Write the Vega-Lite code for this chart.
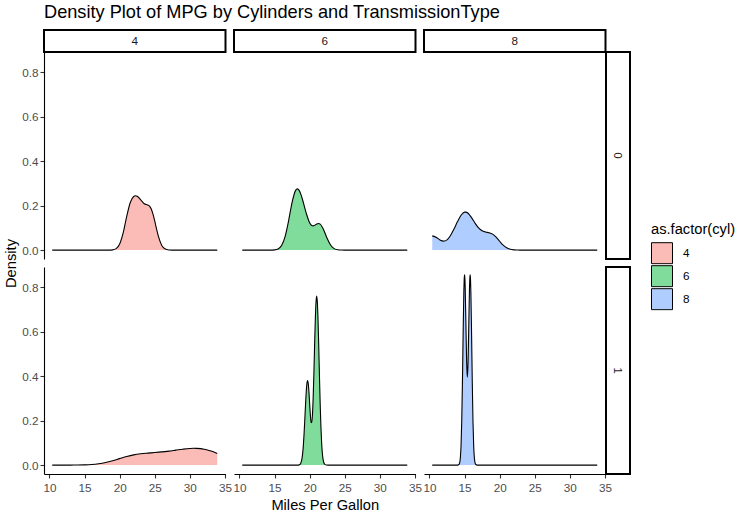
{
  "$schema": "https://vega.github.io/schema/vega-lite/v6.json",
  "background": "white",
  "padding": {"left": 3, "top": 2, "right": 5, "bottom": 3},
  "title": {"text": "Density Plot of MPG by Cylinders and TransmissionType", "anchor": "start", "frame": "group", "fontSize": 18.2, "fontWeight": "normal", "color": "black", "offset": 7},
  "data": {"values": [
    {"am": 0, "cyl": 4, "mpg": 10.4, "density": 0},
    {"am": 0, "cyl": 4, "mpg": 18.5, "density": 0},
    {"am": 0, "cyl": 4, "mpg": 19, "density": 0.001},
    {"am": 0, "cyl": 4, "mpg": 19.5, "density": 0.0065},
    {"am": 0, "cyl": 4, "mpg": 20, "density": 0.0273},
    {"am": 0, "cyl": 4, "mpg": 20.5, "density": 0.0773},
    {"am": 0, "cyl": 4, "mpg": 21, "density": 0.1506},
    {"am": 0, "cyl": 4, "mpg": 21.5, "density": 0.2129},
    {"am": 0, "cyl": 4, "mpg": 22, "density": 0.2409},
    {"am": 0, "cyl": 4, "mpg": 22.25, "density": 0.244},
    {"am": 0, "cyl": 4, "mpg": 22.5, "density": 0.2419},
    {"am": 0, "cyl": 4, "mpg": 23, "density": 0.2258},
    {"am": 0, "cyl": 4, "mpg": 23.5, "density": 0.2081},
    {"am": 0, "cyl": 4, "mpg": 24, "density": 0.2026},
    {"am": 0, "cyl": 4, "mpg": 24.25, "density": 0.1978},
    {"am": 0, "cyl": 4, "mpg": 24.5, "density": 0.1848},
    {"am": 0, "cyl": 4, "mpg": 24.75, "density": 0.1615},
    {"am": 0, "cyl": 4, "mpg": 25, "density": 0.13},
    {"am": 0, "cyl": 4, "mpg": 25.25, "density": 0.0954},
    {"am": 0, "cyl": 4, "mpg": 25.5, "density": 0.0636},
    {"am": 0, "cyl": 4, "mpg": 26, "density": 0.021},
    {"am": 0, "cyl": 4, "mpg": 26.5, "density": 0.0046},
    {"am": 0, "cyl": 4, "mpg": 27, "density": 0.0007},
    {"am": 0, "cyl": 4, "mpg": 27.5, "density": 0},
    {"am": 0, "cyl": 4, "mpg": 33.9, "density": 0},
    {"am": 0, "cyl": 6, "mpg": 10.4, "density": 0},
    {"am": 0, "cyl": 6, "mpg": 14.5, "density": 0},
    {"am": 0, "cyl": 6, "mpg": 15, "density": 0.0009},
    {"am": 0, "cyl": 6, "mpg": 15.5, "density": 0.0051},
    {"am": 0, "cyl": 6, "mpg": 16, "density": 0.0206},
    {"am": 0, "cyl": 6, "mpg": 16.5, "density": 0.0606},
    {"am": 0, "cyl": 6, "mpg": 17, "density": 0.1317},
    {"am": 0, "cyl": 6, "mpg": 17.5, "density": 0.2145},
    {"am": 0, "cyl": 6, "mpg": 18, "density": 0.2682},
    {"am": 0, "cyl": 6, "mpg": 18.25, "density": 0.2749},
    {"am": 0, "cyl": 6, "mpg": 18.5, "density": 0.2682},
    {"am": 0, "cyl": 6, "mpg": 18.75, "density": 0.2504},
    {"am": 0, "cyl": 6, "mpg": 19, "density": 0.2252},
    {"am": 0, "cyl": 6, "mpg": 19.5, "density": 0.1674},
    {"am": 0, "cyl": 6, "mpg": 20, "density": 0.1227},
    {"am": 0, "cyl": 6, "mpg": 20.25, "density": 0.1117},
    {"am": 0, "cyl": 6, "mpg": 20.5, "density": 0.1088},
    {"am": 0, "cyl": 6, "mpg": 20.75, "density": 0.1119},
    {"am": 0, "cyl": 6, "mpg": 21, "density": 0.1169},
    {"am": 0, "cyl": 6, "mpg": 21.25, "density": 0.1196},
    {"am": 0, "cyl": 6, "mpg": 21.5, "density": 0.1166},
    {"am": 0, "cyl": 6, "mpg": 22, "density": 0.0907},
    {"am": 0, "cyl": 6, "mpg": 22.5, "density": 0.0519},
    {"am": 0, "cyl": 6, "mpg": 23, "density": 0.0216},
    {"am": 0, "cyl": 6, "mpg": 23.5, "density": 0.0065},
    {"am": 0, "cyl": 6, "mpg": 24, "density": 0.0014},
    {"am": 0, "cyl": 6, "mpg": 24.5, "density": 0.0002},
    {"am": 0, "cyl": 6, "mpg": 25, "density": 0},
    {"am": 0, "cyl": 6, "mpg": 33.9, "density": 0},
    {"am": 0, "cyl": 8, "mpg": 10.4, "density": 0.0639},
    {"am": 0, "cyl": 8, "mpg": 11, "density": 0.0569},
    {"am": 0, "cyl": 8, "mpg": 11.5, "density": 0.0453},
    {"am": 0, "cyl": 8, "mpg": 12, "density": 0.0402},
    {"am": 0, "cyl": 8, "mpg": 12.5, "density": 0.0461},
    {"am": 0, "cyl": 8, "mpg": 13, "density": 0.0658},
    {"am": 0, "cyl": 8, "mpg": 13.5, "density": 0.0951},
    {"am": 0, "cyl": 8, "mpg": 14, "density": 0.1281},
    {"am": 0, "cyl": 8, "mpg": 14.5, "density": 0.1564},
    {"am": 0, "cyl": 8, "mpg": 15, "density": 0.1705},
    {"am": 0, "cyl": 8, "mpg": 15.2, "density": 0.1708},
    {"am": 0, "cyl": 8, "mpg": 15.5, "density": 0.1656},
    {"am": 0, "cyl": 8, "mpg": 16, "density": 0.1456},
    {"am": 0, "cyl": 8, "mpg": 16.5, "density": 0.1206},
    {"am": 0, "cyl": 8, "mpg": 17, "density": 0.0995},
    {"am": 0, "cyl": 8, "mpg": 17.5, "density": 0.0866},
    {"am": 0, "cyl": 8, "mpg": 18, "density": 0.0811},
    {"am": 0, "cyl": 8, "mpg": 18.5, "density": 0.0782},
    {"am": 0, "cyl": 8, "mpg": 19, "density": 0.0716},
    {"am": 0, "cyl": 8, "mpg": 19.5, "density": 0.058},
    {"am": 0, "cyl": 8, "mpg": 20, "density": 0.0397},
    {"am": 0, "cyl": 8, "mpg": 20.5, "density": 0.0224},
    {"am": 0, "cyl": 8, "mpg": 21, "density": 0.0103},
    {"am": 0, "cyl": 8, "mpg": 21.5, "density": 0.0038},
    {"am": 0, "cyl": 8, "mpg": 22, "density": 0.0011},
    {"am": 0, "cyl": 8, "mpg": 22.5, "density": 0.0003},
    {"am": 0, "cyl": 8, "mpg": 23, "density": 0},
    {"am": 0, "cyl": 8, "mpg": 33.9, "density": 0},
    {"am": 1, "cyl": 4, "mpg": 10.4, "density": 0},
    {"am": 1, "cyl": 4, "mpg": 13, "density": 0.0001},
    {"am": 1, "cyl": 4, "mpg": 14, "density": 0.0003},
    {"am": 1, "cyl": 4, "mpg": 15, "density": 0.001},
    {"am": 1, "cyl": 4, "mpg": 16, "density": 0.0025},
    {"am": 1, "cyl": 4, "mpg": 17, "density": 0.0058},
    {"am": 1, "cyl": 4, "mpg": 18, "density": 0.0114},
    {"am": 1, "cyl": 4, "mpg": 19, "density": 0.0195},
    {"am": 1, "cyl": 4, "mpg": 20, "density": 0.0291},
    {"am": 1, "cyl": 4, "mpg": 21, "density": 0.0385},
    {"am": 1, "cyl": 4, "mpg": 22, "density": 0.046},
    {"am": 1, "cyl": 4, "mpg": 23, "density": 0.0508},
    {"am": 1, "cyl": 4, "mpg": 24, "density": 0.0538},
    {"am": 1, "cyl": 4, "mpg": 25, "density": 0.0563},
    {"am": 1, "cyl": 4, "mpg": 26, "density": 0.0592},
    {"am": 1, "cyl": 4, "mpg": 27, "density": 0.0629},
    {"am": 1, "cyl": 4, "mpg": 28, "density": 0.0672},
    {"am": 1, "cyl": 4, "mpg": 29, "density": 0.0715},
    {"am": 1, "cyl": 4, "mpg": 30, "density": 0.0747},
    {"am": 1, "cyl": 4, "mpg": 30.5, "density": 0.0754},
    {"am": 1, "cyl": 4, "mpg": 31, "density": 0.0752},
    {"am": 1, "cyl": 4, "mpg": 31.5, "density": 0.0739},
    {"am": 1, "cyl": 4, "mpg": 32, "density": 0.0714},
    {"am": 1, "cyl": 4, "mpg": 32.5, "density": 0.0677},
    {"am": 1, "cyl": 4, "mpg": 33, "density": 0.0629},
    {"am": 1, "cyl": 4, "mpg": 33.5, "density": 0.0573},
    {"am": 1, "cyl": 4, "mpg": 33.9, "density": 0.0522},
    {"am": 1, "cyl": 6, "mpg": 10.4, "density": 0},
    {"am": 1, "cyl": 6, "mpg": 18.3, "density": 0},
    {"am": 1, "cyl": 6, "mpg": 18.5, "density": 0.001},
    {"am": 1, "cyl": 6, "mpg": 18.6, "density": 0.0028},
    {"am": 1, "cyl": 6, "mpg": 18.7, "density": 0.0065},
    {"am": 1, "cyl": 6, "mpg": 18.8, "density": 0.0141},
    {"am": 1, "cyl": 6, "mpg": 18.9, "density": 0.028},
    {"am": 1, "cyl": 6, "mpg": 19, "density": 0.0517},
    {"am": 1, "cyl": 6, "mpg": 19.1, "density": 0.0876},
    {"am": 1, "cyl": 6, "mpg": 19.2, "density": 0.1371},
    {"am": 1, "cyl": 6, "mpg": 19.3, "density": 0.1978},
    {"am": 1, "cyl": 6, "mpg": 19.4, "density": 0.263},
    {"am": 1, "cyl": 6, "mpg": 19.5, "density": 0.3225},
    {"am": 1, "cyl": 6, "mpg": 19.6, "density": 0.3644},
    {"am": 1, "cyl": 6, "mpg": 19.7, "density": 0.3802},
    {"am": 1, "cyl": 6, "mpg": 19.8, "density": 0.3664},
    {"am": 1, "cyl": 6, "mpg": 19.9, "density": 0.328},
    {"am": 1, "cyl": 6, "mpg": 20, "density": 0.276},
    {"am": 1, "cyl": 6, "mpg": 20.1, "density": 0.2259},
    {"am": 1, "cyl": 6, "mpg": 20.2, "density": 0.193},
    {"am": 1, "cyl": 6, "mpg": 20.3, "density": 0.1909},
    {"am": 1, "cyl": 6, "mpg": 20.4, "density": 0.2269},
    {"am": 1, "cyl": 6, "mpg": 20.5, "density": 0.3021},
    {"am": 1, "cyl": 6, "mpg": 20.6, "density": 0.4096},
    {"am": 1, "cyl": 6, "mpg": 20.7, "density": 0.5325},
    {"am": 1, "cyl": 6, "mpg": 20.8, "density": 0.6477},
    {"am": 1, "cyl": 6, "mpg": 20.9, "density": 0.7297},
    {"am": 1, "cyl": 6, "mpg": 21, "density": 0.7593},
    {"am": 1, "cyl": 6, "mpg": 21.1, "density": 0.7288},
    {"am": 1, "cyl": 6, "mpg": 21.2, "density": 0.645},
    {"am": 1, "cyl": 6, "mpg": 21.3, "density": 0.5261},
    {"am": 1, "cyl": 6, "mpg": 21.4, "density": 0.3956},
    {"am": 1, "cyl": 6, "mpg": 21.5, "density": 0.2742},
    {"am": 1, "cyl": 6, "mpg": 21.6, "density": 0.1752},
    {"am": 1, "cyl": 6, "mpg": 21.7, "density": 0.1033},
    {"am": 1, "cyl": 6, "mpg": 21.8, "density": 0.0559},
    {"am": 1, "cyl": 6, "mpg": 21.9, "density": 0.0282},
    {"am": 1, "cyl": 6, "mpg": 22, "density": 0.0129},
    {"am": 1, "cyl": 6, "mpg": 22.2, "density": 0.0021},
    {"am": 1, "cyl": 6, "mpg": 22.4, "density": 0.0003},
    {"am": 1, "cyl": 6, "mpg": 22.6, "density": 0},
    {"am": 1, "cyl": 6, "mpg": 33.9, "density": 0},
    {"am": 1, "cyl": 8, "mpg": 10.4, "density": 0},
    {"am": 1, "cyl": 8, "mpg": 14, "density": 0.0001},
    {"am": 1, "cyl": 8, "mpg": 14.2, "density": 0.0024},
    {"am": 1, "cyl": 8, "mpg": 14.3, "density": 0.0096},
    {"am": 1, "cyl": 8, "mpg": 14.4, "density": 0.0319},
    {"am": 1, "cyl": 8, "mpg": 14.5, "density": 0.0868},
    {"am": 1, "cyl": 8, "mpg": 14.6, "density": 0.1975},
    {"am": 1, "cyl": 8, "mpg": 14.7, "density": 0.3745},
    {"am": 1, "cyl": 8, "mpg": 14.8, "density": 0.5918},
    {"am": 1, "cyl": 8, "mpg": 14.9, "density": 0.7788},
    {"am": 1, "cyl": 8, "mpg": 14.95, "density": 0.8346},
    {"am": 1, "cyl": 8, "mpg": 15, "density": 0.8551},
    {"am": 1, "cyl": 8, "mpg": 15.05, "density": 0.8384},
    {"am": 1, "cyl": 8, "mpg": 15.1, "density": 0.788},
    {"am": 1, "cyl": 8, "mpg": 15.2, "density": 0.6236},
    {"am": 1, "cyl": 8, "mpg": 15.3, "density": 0.4613},
    {"am": 1, "cyl": 8, "mpg": 15.4, "density": 0.395},
    {"am": 1, "cyl": 8, "mpg": 15.5, "density": 0.4613},
    {"am": 1, "cyl": 8, "mpg": 15.6, "density": 0.6236},
    {"am": 1, "cyl": 8, "mpg": 15.7, "density": 0.788},
    {"am": 1, "cyl": 8, "mpg": 15.75, "density": 0.8384},
    {"am": 1, "cyl": 8, "mpg": 15.8, "density": 0.8551},
    {"am": 1, "cyl": 8, "mpg": 15.85, "density": 0.8346},
    {"am": 1, "cyl": 8, "mpg": 15.9, "density": 0.7788},
    {"am": 1, "cyl": 8, "mpg": 16, "density": 0.5918},
    {"am": 1, "cyl": 8, "mpg": 16.1, "density": 0.3745},
    {"am": 1, "cyl": 8, "mpg": 16.2, "density": 0.1975},
    {"am": 1, "cyl": 8, "mpg": 16.3, "density": 0.0868},
    {"am": 1, "cyl": 8, "mpg": 16.4, "density": 0.0319},
    {"am": 1, "cyl": 8, "mpg": 16.5, "density": 0.0096},
    {"am": 1, "cyl": 8, "mpg": 16.6, "density": 0.0024},
    {"am": 1, "cyl": 8, "mpg": 16.8, "density": 0.0001},
    {"am": 1, "cyl": 8, "mpg": 33.9, "density": 0}
  ]},
  "columns": 6,
  "spacing": 0,
  "bounds": "flush",
  "align": "each",
  "concat": [
    {"width": 181.5, "height": 22, "view": {"stroke": "black", "strokeWidth": 2}, "data": {"values": [{"lab": "4"}]}, "mark": {"type": "text", "fontSize": 11.7, "color": "#1A1A1A"}, "encoding": {"text": {"field": "lab"}}},
    {"width": 8, "height": 1, "data": {"values": []}, "mark": "point"},
    {"width": 181.5, "height": 22, "view": {"stroke": "black", "strokeWidth": 2}, "data": {"values": [{"lab": "6"}]}, "mark": {"type": "text", "fontSize": 11.7, "color": "#1A1A1A"}, "encoding": {"text": {"field": "lab"}}},
    {"width": 8, "height": 1, "data": {"values": []}, "mark": "point"},
    {"width": 181.5, "height": 22, "view": {"stroke": "black", "strokeWidth": 2}, "data": {"values": [{"lab": "8"}]}, "mark": {"type": "text", "fontSize": 11.7, "color": "#1A1A1A"}, "encoding": {"text": {"field": "lab"}}},
    {"width": 24, "height": 22, "data": {"values": []}, "mark": "point"},

    {"width": 181.5, "height": 207,
     "transform": [{"filter": "datum.am == 0 && datum.cyl == 4"}],
     "encoding": {
       "x": {"field": "mpg", "type": "quantitative", "scale": {"domain": [9.225, 35.075], "nice": false, "zero": false}, "axis": null},
       "y": {"field": "density", "type": "quantitative", "scale": {"domain": [-0.04, 0.89], "nice": false, "zero": false}, "axis": {"values": [0, 0.2, 0.4, 0.6, 0.8], "format": ".1f", "title": "Density", "titleY": 211}}
     },
     "layer": [
       {"mark": {"type": "area", "interpolate": "monotone"}, "encoding": {"color": {"field": "cyl", "type": "nominal", "scale": {"domain": [4, 6, 8], "range": ["#FBBBB6", "#7FDC9B", "#B0CDFF"]}, "legend": {"title": "as.factor(cyl)", "orient": "none", "legendX": 607, "legendY": 192}}}},
       {"mark": {"type": "line", "interpolate": "monotone", "color": "black", "strokeWidth": 1.1}}
     ]},
    {"width": 8, "height": 1, "data": {"values": []}, "mark": "point"},
    {"width": 181.5, "height": 207,
     "transform": [{"filter": "datum.am == 0 && datum.cyl == 6"}],
     "encoding": {
       "x": {"field": "mpg", "type": "quantitative", "scale": {"domain": [9.225, 35.075], "nice": false, "zero": false}, "axis": null},
       "y": {"field": "density", "type": "quantitative", "scale": {"domain": [-0.04, 0.89], "nice": false, "zero": false}, "axis": null}
     },
     "layer": [
       {"mark": {"type": "area", "interpolate": "monotone"}, "encoding": {"color": {"field": "cyl", "type": "nominal", "scale": {"domain": [4, 6, 8], "range": ["#FBBBB6", "#7FDC9B", "#B0CDFF"]}, "legend": {"title": "as.factor(cyl)", "orient": "none", "legendX": 607, "legendY": 192}}}},
       {"mark": {"type": "line", "interpolate": "monotone", "color": "black", "strokeWidth": 1.1}}
     ]},
    {"width": 8, "height": 1, "data": {"values": []}, "mark": "point"},
    {"width": 181.5, "height": 207,
     "transform": [{"filter": "datum.am == 0 && datum.cyl == 8"}],
     "encoding": {
       "x": {"field": "mpg", "type": "quantitative", "scale": {"domain": [9.225, 35.075], "nice": false, "zero": false}, "axis": null},
       "y": {"field": "density", "type": "quantitative", "scale": {"domain": [-0.04, 0.89], "nice": false, "zero": false}, "axis": null}
     },
     "layer": [
       {"mark": {"type": "area", "interpolate": "monotone"}, "encoding": {"color": {"field": "cyl", "type": "nominal", "scale": {"domain": [4, 6, 8], "range": ["#FBBBB6", "#7FDC9B", "#B0CDFF"]}, "legend": {"title": "as.factor(cyl)", "orient": "none", "legendX": 607, "legendY": 192}}}},
       {"mark": {"type": "line", "interpolate": "monotone", "color": "black", "strokeWidth": 1.1}}
     ]},
    {"width": 24, "height": 207, "view": {"stroke": "black", "strokeWidth": 2}, "data": {"values": [{"lab": "0"}]}, "mark": {"type": "text", "fontSize": 11.7, "color": "#1A1A1A", "angle": 90}, "encoding": {"text": {"field": "lab"}}},

    {"width": 1, "height": 8, "data": {"values": []}, "mark": "point"},
    {"width": 1, "height": 8, "data": {"values": []}, "mark": "point"},
    {"width": 1, "height": 8, "data": {"values": []}, "mark": "point"},
    {"width": 1, "height": 8, "data": {"values": []}, "mark": "point"},
    {"width": 1, "height": 8, "data": {"values": []}, "mark": "point"},
    {"width": 1, "height": 8, "data": {"values": []}, "mark": "point"},

    {"width": 181.5, "height": 207,
     "transform": [{"filter": "datum.am == 1 && datum.cyl == 4"}],
     "encoding": {
       "x": {"field": "mpg", "type": "quantitative", "scale": {"domain": [9.225, 35.075], "nice": false, "zero": false}, "axis": {"values": [10, 15, 20, 25, 30, 35], "title": null}},
       "y": {"field": "density", "type": "quantitative", "scale": {"domain": [-0.04, 0.89], "nice": false, "zero": false}, "axis": {"values": [0, 0.2, 0.4, 0.6, 0.8], "format": ".1f", "title": null}}
     },
     "layer": [
       {"mark": {"type": "area", "interpolate": "monotone"}, "encoding": {"color": {"field": "cyl", "type": "nominal", "scale": {"domain": [4, 6, 8], "range": ["#FBBBB6", "#7FDC9B", "#B0CDFF"]}, "legend": {"title": "as.factor(cyl)", "orient": "none", "legendX": 607, "legendY": 192}}}},
       {"mark": {"type": "line", "interpolate": "monotone", "color": "black", "strokeWidth": 1.1}}
     ]},
    {"width": 8, "height": 1, "data": {"values": []}, "mark": "point"},
    {"width": 181.5, "height": 207,
     "transform": [{"filter": "datum.am == 1 && datum.cyl == 6"}],
     "encoding": {
       "x": {"field": "mpg", "type": "quantitative", "scale": {"domain": [9.225, 35.075], "nice": false, "zero": false}, "axis": {"values": [10, 15, 20, 25, 30, 35], "title": "Miles Per Gallon"}},
       "y": {"field": "density", "type": "quantitative", "scale": {"domain": [-0.04, 0.89], "nice": false, "zero": false}, "axis": null}
     },
     "layer": [
       {"mark": {"type": "area", "interpolate": "monotone"}, "encoding": {"color": {"field": "cyl", "type": "nominal", "scale": {"domain": [4, 6, 8], "range": ["#FBBBB6", "#7FDC9B", "#B0CDFF"]}, "legend": {"title": "as.factor(cyl)", "orient": "none", "legendX": 607, "legendY": 192}}}},
       {"mark": {"type": "line", "interpolate": "monotone", "color": "black", "strokeWidth": 1.1}}
     ]},
    {"width": 8, "height": 1, "data": {"values": []}, "mark": "point"},
    {"width": 181.5, "height": 207,
     "transform": [{"filter": "datum.am == 1 && datum.cyl == 8"}],
     "encoding": {
       "x": {"field": "mpg", "type": "quantitative", "scale": {"domain": [9.225, 35.075], "nice": false, "zero": false}, "axis": {"values": [10, 15, 20, 25, 30, 35], "title": null}},
       "y": {"field": "density", "type": "quantitative", "scale": {"domain": [-0.04, 0.89], "nice": false, "zero": false}, "axis": null}
     },
     "layer": [
       {"mark": {"type": "area", "interpolate": "monotone"}, "encoding": {"color": {"field": "cyl", "type": "nominal", "scale": {"domain": [4, 6, 8], "range": ["#FBBBB6", "#7FDC9B", "#B0CDFF"]}, "legend": {"title": "as.factor(cyl)", "orient": "none", "legendX": 607, "legendY": 192}}}},
       {"mark": {"type": "line", "interpolate": "monotone", "color": "black", "strokeWidth": 1.1}}
     ]},
    {"width": 24, "height": 207, "view": {"stroke": "black", "strokeWidth": 2}, "data": {"values": [{"lab": "1"}]}, "mark": {"type": "text", "fontSize": 11.7, "color": "#1A1A1A", "angle": 90}, "encoding": {"text": {"field": "lab"}}}
  ],
  "config": {
    "font": "Liberation Sans",
    "view": {"stroke": null},
    "axis": {"domainColor": "black", "domainWidth": 1.1, "tickColor": "#333333", "tickSize": 4, "tickWidth": 1.1, "labelColor": "#4D4D4D", "labelFontSize": 11.7, "titleFontSize": 14.7, "titleFontWeight": "normal", "titleColor": "black", "grid": false, "labelPadding": 2, "titlePadding": 3, "labelFlush": false, "labelOverlap": false},
    "axisX": {"labelPadding": 4, "titlePadding": 4},
    "legend": {"titleFontSize": 14.7, "titleFontWeight": "normal", "titleColor": "black", "labelFontSize": 11.7, "labelColor": "black", "symbolType": "square", "symbolSize": 441, "symbolStrokeColor": "black", "symbolStrokeWidth": 1, "symbolOpacity": 1, "rowPadding": 0, "clipHeight": 23, "labelOffset": 10, "titlePadding": 5, "padding": 0}
  }
}
